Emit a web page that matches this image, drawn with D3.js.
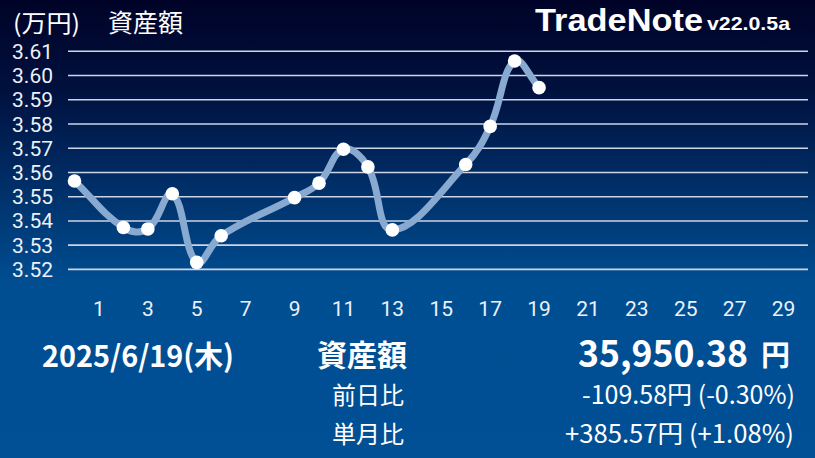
<!DOCTYPE html>
<html><head><meta charset="utf-8">
<script src="https://cdn.jsdelivr.net/npm/d3@7"></script>
<style>html,body{margin:0;padding:0;background:#004f94;overflow:hidden} svg{display:block}</style>
</head><body><svg id="c" width="815" height="458"></svg>
<script>
// ---- data ----
const days   = [0, 2, 3, 4, 5, 6, 9, 10, 11, 12, 13, 16, 17, 18, 19];
const assets = [3.5565, 3.5373, 3.5367, 3.5512, 3.5229, 3.5339, 3.5496, 3.5556, 3.5696, 3.5623, 3.5363, 3.5633, 3.5790, 3.6060, 3.5950];
const yTicks = [3.52, 3.53, 3.54, 3.55, 3.56, 3.57, 3.58, 3.59, 3.60, 3.61];
const xTicks = [1, 3, 5, 7, 9, 11, 13, 15, 17, 19, 21, 23, 25, 27, 29];
const unitLabel = "(万円)";
const seriesLabel = "資産額";
const appName = "TradeNote";
const appVersion = "v22.0.5a";
const dateLabel = "2025/6/19(木)";
const totalLabel = "資産額";
const totalValue = "35,950.38";
const yen = "円";
const rowLabels = ["前日比", "単月比"];
const rowValues = ["-109.58円 (-0.30%)", "+385.57円 (+1.08%)"];

const svg = d3.select("#c");
const W = 815, H = 458;
const defs = svg.append("defs");
const grad = defs.append("linearGradient").attr("id","bg").attr("x1",0).attr("y1",0).attr("x2",0).attr("y2",1);
grad.append("stop").attr("offset","0").attr("stop-color","#000327");
grad.append("stop").attr("offset","0.2").attr("stop-color","#00113f");
grad.append("stop").attr("offset","0.62").attr("stop-color","#004e92");
grad.append("stop").attr("offset","1").attr("stop-color","#005096");
svg.append("rect").attr("width",W).attr("height",H).attr("fill","url(#bg)");

const x = d3.scaleLinear().domain([0, 30]).range([74.5, 808]);
const y = d3.scaleLinear().domain([3.52, 3.61]).range([269.4, 51.3]);
const gridL = 68, gridR = 808;

// grid
svg.append("g").selectAll("line").data(yTicks).join("line")
  .attr("x1", gridL).attr("x2", gridR)
  .attr("y1", d => y(d)).attr("y2", d => y(d))
  .attr("stroke", "#cdd5e6").attr("stroke-width", 1.6);

// y labels
svg.append("g").selectAll("text").data(yTicks).join("text")
  .attr("x", 53).attr("y", d => y(d)).attr("dy", "0.36em")
  .attr("text-anchor", "end")
  .attr("font-family", "Roboto, sans-serif").attr("font-size", 21)
  .attr("fill", "#eef1f7")
  .text(d => d.toFixed(2));

// x labels
svg.append("g").selectAll("text").data(xTicks).join("text")
  .attr("x", d => x(d)).attr("y", 316)
  .attr("text-anchor", "middle")
  .attr("font-family", "Roboto, sans-serif").attr("font-size", 21)
  .attr("fill", "#eef1f7")
  .text(d => d);

// Chart.js-like spline curve (tension 0.4)
function splineCurve(ctx) {
  let pts = [];
  const t = 0.4;
  return {
    areaStart(){}, areaEnd(){},
    lineStart(){ pts = []; },
    point(px, py){ pts.push([px, py]); },
    lineEnd(){
      const n = pts.length;
      if (!n) return;
      const cpP = [], cpN = [];
      for (let i = 0; i < n; i++) {
        const prev = pts[i-1] || pts[i], cur = pts[i], next = pts[i+1] || pts[i];
        const d01 = Math.hypot(cur[0]-prev[0], cur[1]-prev[1]);
        const d12 = Math.hypot(next[0]-cur[0], next[1]-cur[1]);
        let s01 = d01/(d01+d12), s12 = d12/(d01+d12);
        if (isNaN(s01)) s01 = 0; if (isNaN(s12)) s12 = 0;
        const fa = t*s01, fb = t*s12;
        cpP.push([cur[0]-fa*(next[0]-prev[0]), cur[1]-fa*(next[1]-prev[1])]);
        cpN.push([cur[0]+fb*(next[0]-prev[0]), cur[1]+fb*(next[1]-prev[1])]);
      }
      ctx.moveTo(pts[0][0], pts[0][1]);
      for (let i = 1; i < n; i++) {
        ctx.bezierCurveTo(cpN[i-1][0], cpN[i-1][1], cpP[i][0], cpP[i][1], pts[i][0], pts[i][1]);
      }
    }
  };
}

const data = days.map((d, i) => ({d, v: assets[i]}));
const line = d3.line().x(p => x(p.d)).y(p => y(p.v)).curve(splineCurve);
svg.append("path").datum(data).attr("d", line)
  .attr("fill", "none").attr("stroke", "#88a9d0").attr("stroke-width", 7)
  .attr("stroke-linecap", "round").attr("stroke-linejoin", "round");

svg.append("g").selectAll("circle").data(data).join("circle")
  .attr("cx", p => x(p.d)).attr("cy", p => y(p.v)).attr("r", 6.8)
  .attr("fill", "#ffffff");

// header
const cjk = "'Noto Sans CJK JP', 'Noto Sans', sans-serif";
svg.append("text").attr("x", 13).attr("y", 32).attr("font-family", cjk).attr("font-size", 24)
  .attr("fill", "#ffffff").attr("textLength", 67).attr("lengthAdjust", "spacingAndGlyphs").text(unitLabel);
svg.append("text").attr("x", 108).attr("y", 32).attr("font-family", cjk).attr("font-size", 25)
  .attr("fill", "#ffffff").text(seriesLabel);

svg.append("text").attr("x", 535).attr("y", 31)
  .attr("font-family", "'Liberation Sans', Arial, sans-serif").attr("font-weight", "bold")
  .attr("font-size", 32).attr("fill", "#ffffff")
  .attr("textLength", 168).attr("lengthAdjust", "spacingAndGlyphs").text(appName);
svg.append("text").attr("x", 707).attr("y", 30)
  .attr("font-family", "'Liberation Sans', Arial, sans-serif").attr("font-weight", "bold")
  .attr("font-size", 19).attr("fill", "#ffffff")
  .attr("textLength", 83).attr("lengthAdjust", "spacingAndGlyphs").text(appVersion);

// bottom info
svg.append("text").attr("x", 42).attr("y", 367).attr("font-family", cjk).attr("font-weight", "bold")
  .attr("font-size", 30).attr("fill", "#ffffff")
  .attr("textLength", 192).attr("lengthAdjust", "spacingAndGlyphs").text(dateLabel);
svg.append("text").attr("x", 317).attr("y", 366).attr("font-family", cjk).attr("font-weight", "bold")
  .attr("font-size", 30).attr("fill", "#ffffff").text(totalLabel);
svg.append("text").attr("x", 578).attr("y", 367).attr("font-family", cjk).attr("font-weight", "bold")
  .attr("font-size", 37).attr("fill", "#ffffff")
  .attr("textLength", 170).attr("lengthAdjust", "spacingAndGlyphs").text(totalValue);
svg.append("text").attr("x", 790).attr("y", 366).attr("text-anchor", "end").attr("font-family", cjk).attr("font-weight", "bold")
  .attr("font-size", 29).attr("fill", "#ffffff").text(yen);

const rowX = [582, 565], rowW = [213, 229];
rowLabels.forEach((lab, i) => {
  svg.append("text").attr("x", 332).attr("y", 404 + i*39).attr("font-family", cjk)
    .attr("font-size", 24).attr("fill", "#ffffff").text(lab);
  svg.append("text").attr("x", rowX[i]).attr("y", 404 + i*39).attr("font-family", cjk)
    .attr("font-size", 25).attr("fill", "#ffffff")
    .attr("textLength", rowW[i]).attr("lengthAdjust", "spacingAndGlyphs").text(rowValues[i]);
});
</script></body></html>
